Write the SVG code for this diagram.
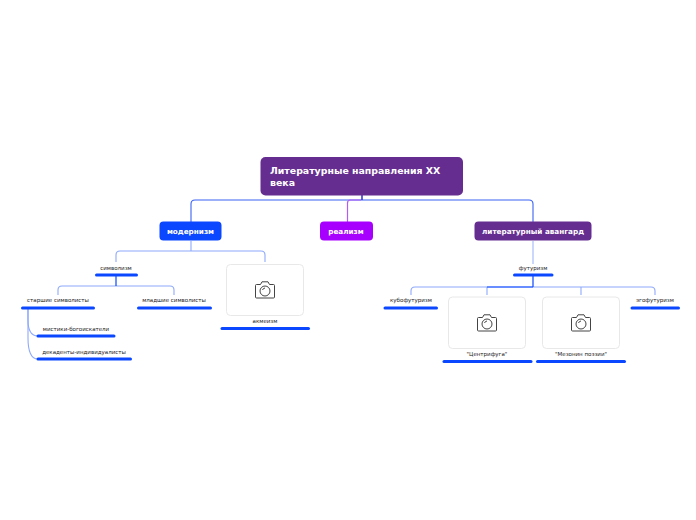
<svg xmlns="http://www.w3.org/2000/svg" width="696" height="520" viewBox="0 0 696 520">
<style>
text{font-family:"DejaVu Sans","Liberation Sans",sans-serif}
.w{fill:#fff;font-weight:700;font-size:7.25px}
.r{fill:#fff;font-weight:700;font-size:9.4px}
.t{fill:#222;font-size:5.5px;text-anchor:middle}
.c{fill:none;stroke:#8ea9fb;stroke-width:1.100}
.d{fill:none;stroke:#0a47ff;stroke-width:1.200}
.u{stroke:#0a47ff;stroke-width:3;stroke-linecap:round}
.card{fill:#fff;stroke:#e8e8e8;stroke-width:1}
.cam{fill:none;stroke:#444;stroke-width:1}
.mw{text-anchor:middle}
</style>
<defs>
<g id="cam" class="cam">
<path d="M-8.500 -5.500H-4.500L-3 -8.200H3L4.500 -5.500H8.500Q9.500 -5.500 9.500 -4.500V7Q9.500 8 8.500 8H-8.500Q-9.500 8 -9.500 7V-4.500Q-9.500 -5.500 -8.500 -5.500Z"/>
<circle cx="0" cy="1" r="5"/>
<path d="M-2.500 0A3 3 0 0 1 0 -2"/>
</g>
</defs>
<g id="connectors">
<path class="c" style="stroke:#3a62f5" d="M191 222V204Q191 200 195 200H529Q533 200 533 204V222"/>
<path d="M362 195V200" fill="none" stroke="#2b2fd0" stroke-width="1.500"/>
<path d="M347.500 222V203Q347.500 200 350.500 200H361" fill="none" stroke="#b35cf5" stroke-width="1.200"/>
<path class="c" d="M191 241V251M116 262V255Q116 251 120 251H261Q265 251 265 255V262"/>
<path class="c" d="M58 295V290Q58 286 62 286H170Q174 286 174 290V295"/>
<path class="d" d="M116 276V286"/>
<path class="c" d="M28 309V320Q28 336 38 336"/>
<path class="c" d="M28 309V338Q28 359 38 359"/>
<path class="c" style="stroke:#b6c6fc;stroke-width:1.400" d="M533 241V264"/>
<path class="c" d="M411 295V291Q411 287 415 287H651Q655 287 655 291V295M487 295V287M581 295V287"/>
<path class="d" d="M533 276V287M487 287H533"/>
</g>
<g id="root"><rect x="260.500" y="157" width="202.500" height="38.500" rx="5" fill="#662d91"/><text class="r" x="270" y="174">Литературные направления XX</text><text class="r" x="270" y="186">века</text></g>
<g id="modernism"><rect x="159.500" y="221.500" width="62" height="19" rx="4" fill="#0a47ff"/><text class="w mw" x="190.500" y="234">модернизм</text></g>
<g id="realism"><rect x="320" y="221.500" width="53" height="19" rx="4" fill="#a800ff"/><text class="w mw" x="346" y="234">реализм</text></g>
<g id="avantgarde"><rect x="474.500" y="221.500" width="117" height="19" rx="4" fill="#662d91"/><text class="w mw" x="533" y="234">литературный авангард</text></g>
<g id="symbolism"><text class="t" x="116" y="270">символизм</text><path class="u" d="M96.500 275H136.500"/></g>
<g id="senior"><text class="t" x="58" y="302">старшие символисты</text><path class="u" d="M22.500 308H93.500"/></g>
<g id="junior"><text class="t" x="174" y="302">младшие символисты</text><path class="u" d="M138.500 308H210.500"/></g>
<g id="mystics"><text class="t" x="76" y="331">мистики-богоискатели</text><path class="u" d="M38 336H114"/></g>
<g id="decadents"><text class="t" x="84" y="354">декаденты-индивидуалисты</text><path class="u" d="M38 359H130.500"/></g>
<g id="acmeism"><rect class="card" x="226.500" y="264.500" width="77" height="51" rx="4"/><use href="#cam" x="265" y="290"/><text class="t" x="265" y="323">акмеизм</text><path class="u" d="M222 328.500H308.500"/></g>
<g id="futurism"><text class="t" x="533" y="270">футуризм</text><path class="u" d="M514.500 275H552"/></g>
<g id="cubo"><text class="t" x="411" y="302">кубофутуризм</text><path class="u" d="M385 308H436.500"/></g>
<g id="centrifuga"><rect class="card" x="448.500" y="297" width="77" height="51.500" rx="4"/><use href="#cam" x="487" y="323"/><text class="t" x="487" y="356">"Центрифуга"</text><path class="u" d="M444 361.500H531"/></g>
<g id="mezzanine"><rect class="card" x="542.500" y="297" width="77" height="51.500" rx="4"/><use href="#cam" x="581" y="323"/><text class="t" x="581" y="356">"Мезонин поэзии"</text><path class="u" d="M537.500 361.500H624.500"/></g>
<g id="ego"><text class="t" x="655" y="302">эгофутуризм</text><path class="u" d="M632 308H678.500"/></g>
</svg>
